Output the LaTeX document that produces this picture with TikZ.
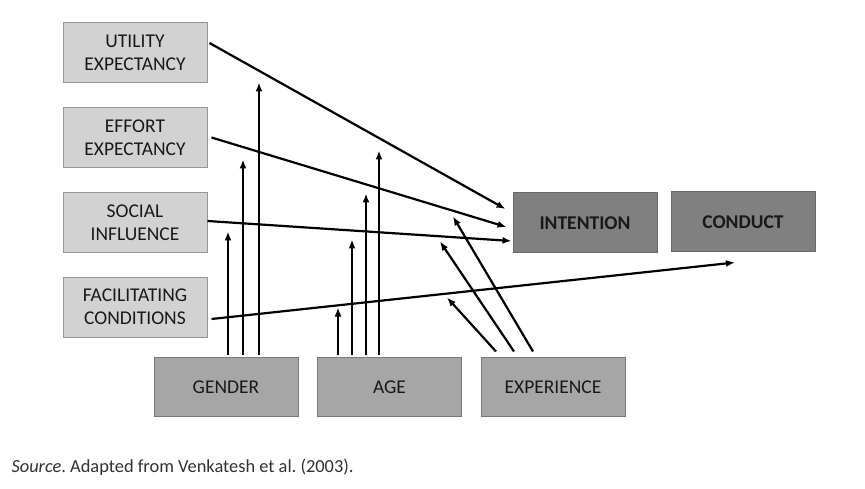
\documentclass[tikz,border=0pt]{standalone}
\usepackage{fontspec}
\setmainfont{Carlito}
\usetikzlibrary{arrows.meta}
\definecolor{lightbox}{RGB}{210,210,210}
\definecolor{lightedge}{RGB}{150,150,150}
\definecolor{midbox}{RGB}{166,166,166}
\definecolor{midedge}{RGB}{120,120,120}
\definecolor{darkbox}{RGB}{128,128,128}
\definecolor{darkedge}{RGB}{105,105,105}
\definecolor{captext}{RGB}{50,50,50}
\frenchspacing
\begin{document}
\begin{tikzpicture}[x=1pt,y=-1pt,
  box/.style={rectangle, minimum width=144pt, minimum height=60pt, inner sep=0pt, align=center,
    font=\fontsize{19.5pt}{23pt}\selectfont, line width=1pt, text=black!90},
  lbox/.style={box, fill=lightbox, draw=lightedge},
  bbox/.style={box, fill=midbox, draw=midedge, minimum height=59pt},
  dbox/.style={box, fill=darkbox, draw=darkedge, font=\fontsize{19.5pt}{23pt}\selectfont\bfseries},
  arr/.style={line width=2.2pt, -{Latex[length=9pt,width=7pt]}}]
\useasboundingbox (0,0) rectangle (865,489);
\fill[white] (0,0) rectangle (865,489);
\node[lbox] (util) at (135,52.5) {UTILITY\\EXPECTANCY};
\node[lbox] (eff) at (135,137.5) {EFFORT\\EXPECTANCY};
\node[lbox] (soc) at (135,222.5) {SOCIAL\\INFLUENCE};
\node[lbox] (fac) at (135,307) {FACILITATING\\CONDITIONS};
\node[dbox] (int) at (585,223) {INTENTION};
\node[dbox] (con) at (743,222) {CONDUCT};
\node[bbox] (gen) at (226,387) {GENDER};
\node[bbox] (age) at (389.5,387) {AGE};
\node[bbox] (exp) at (553,387) {EXPERIENCE};
\node[anchor=west, text=captext, font=\fontsize{18.4pt}{21pt}\selectfont] (cap) at (8,467)
  {\textit{Source}. Adapted from Venkatesh et al. (2003).};
% main paths
\draw[arr] ([xshift=2pt,yshift=9.5pt]util.east) -- ([xshift=-7pt,yshift=14pt]int.west);
\draw[arr] ([xshift=4pt]eff.east) -- ([xshift=-6pt,yshift=-4pt]int.west);
\draw[arr] ([yshift=1.5pt]soc.east) -- ([xshift=-1pt,yshift=-18pt]int.west);
\draw[arr] ([xshift=4pt,yshift=-12pt]fac.east) -- ([xshift=-8pt,yshift=-10pt]con.south);
% gender moderators
\draw[arr] ([xshift=2pt,yshift=2.5pt]gen.north) -- ++(0,-123);
\draw[arr] ([xshift=17pt,yshift=2.5pt]gen.north) -- ++(0,-195);
\draw[arr] ([xshift=33pt,yshift=2.5pt]gen.north) -- ++(0,-272);
% age moderators
\draw[arr] ([xshift=-51.5pt,yshift=2.5pt]age.north) -- ++(0,-47);
\draw[arr] ([xshift=-37.5pt,yshift=2.5pt]age.north) -- ++(0,-115);
\draw[arr] ([xshift=-23.5pt,yshift=2.5pt]age.north) -- ++(0,-161);
\draw[arr] ([xshift=-10.5pt,yshift=2.5pt]age.north) -- ++(0,-204);
% experience moderators
\draw[arr] ([xshift=-57pt,yshift=5.5pt]exp.north) -- ++(-49,-54);
\draw[arr] ([xshift=-39pt,yshift=5.5pt]exp.north) -- ++(-74,-110);
\draw[arr] ([xshift=-20pt,yshift=5.5pt]exp.north) -- ++(-80,-135);
\end{tikzpicture}
\end{document}
